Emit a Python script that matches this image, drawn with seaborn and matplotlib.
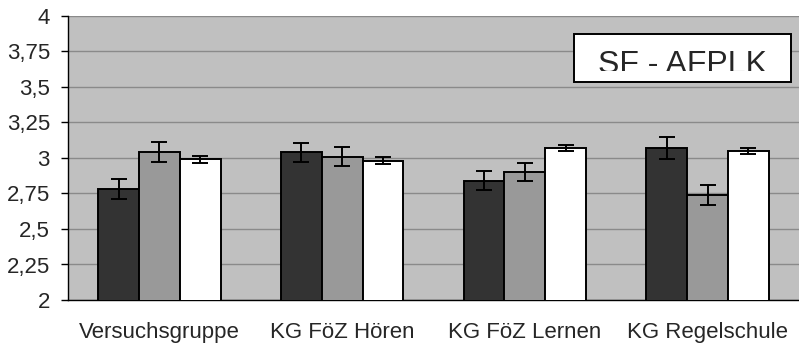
import matplotlib
matplotlib.use("Agg")
import matplotlib.pyplot as plt
import pandas as pd
import seaborn as sns
from matplotlib.patches import Rectangle
from matplotlib.transforms import Bbox

# Werte
gruppen = ["Versuchsgruppe", "KG FöZ Hören", "KG FöZ Lernen", "KG Regelschule"]
serien = ["A", "B", "C"]
mittelwerte = {
    "A": [2.78, 3.04, 2.84, 3.07],
    "B": [3.04, 3.01, 2.90, 2.74],
    "C": [2.99, 2.98, 3.07, 3.05],
}
fehler = {
    "A": [0.07, 0.065, 0.065, 0.075],
    "B": [0.07, 0.065, 0.065, 0.07],
    "C": [0.025, 0.025, 0.02, 0.02],
}
y_ticks = [2, 2.25, 2.5, 2.75, 3, 3.25, 3.5, 3.75, 4]
y_labels = ["2", "2,25", "2,5", "2,75", "3", "3,25", "3,5", "3,75", "4"]
farben = ["#333333", "#999999", "#ffffff"]
titel = "SF - AFPLK"

rows = []
for s in serien:
    for g, m, e in zip(gruppen, mittelwerte[s], fehler[s]):
        rows.append({"gruppe": g, "serie": s, "wert": m, "fehler": e})
df = pd.DataFrame(rows)

sns.set_style("white")
plt.rcParams["font.family"] = ["Liberation Sans", "DejaVu Sans"]

W, H = 799, 349
fig = plt.figure(figsize=(W / 100, H / 100), dpi=100)
ax = fig.add_axes([68 / W, 49 / H, 731 / W, 284 / H])
ax.set_facecolor("#c0c0c0")

sns.barplot(data=df, x="gruppe", y="wert", hue="serie", order=gruppen,
            hue_order=serien, palette=farben, width=0.67, errorbar=None,
            edgecolor="black", linewidth=1.4, ax=ax, legend=False, zorder=3)

# Fehlerbalken an den Balkenmitten
for patch_group, s in zip(ax.containers, serien):
    xs = [p.get_x() + p.get_width() / 2 for p in patch_group]
    ax.errorbar(xs, mittelwerte[s], yerr=fehler[s], fmt="none",
                ecolor="black", elinewidth=1.4, capsize=6, capthick=1.4,
                zorder=4)

ax.set_ylim(2, 4)
ax.set_xlim(-0.5, 3.47)
ax.set_yticks(y_ticks)
ax.set_yticklabels(y_labels, fontsize=16)
ax.yaxis.grid(True, color="#8a8a8a", linewidth=1, zorder=0)
ax.set_axisbelow(True)

ax.set_xticks(range(len(gruppen)))
ax.set_xticklabels(gruppen, fontsize=16)
ax.set_xticks([-0.5, 0.5, 1.5, 2.5, 3.5], minor=True)
ax.tick_params(axis="x", which="major", length=0, pad=16)
ax.tick_params(axis="x", which="minor", length=5, width=1, color="black",
               direction="out")
ax.tick_params(axis="y", length=5, width=1, color="black", direction="out",
               pad=8, left=True)
ax.set_xlabel("")
ax.set_ylabel("")

for side in ["top", "right"]:
    ax.spines[side].set_visible(False)
for side in ["left", "bottom"]:
    ax.spines[side].set_color("black")
    ax.spines[side].set_linewidth(1)

# Titelkasten (Text unten leicht abgeschnitten wie im Original)
box = Rectangle((574 / W, 1 - 82 / H), 217 / W, 48 / H,
                transform=fig.transFigure, facecolor="white",
                edgecolor="black", linewidth=1.4, zorder=5)
fig.patches.append(box)
t = fig.text(682 / W, 1 - 73 / H, titel, fontsize=23, ha="center",
             va="baseline", zorder=6)
t.set_clip_box(Bbox.from_extents(574, H - 71, 791, H - 34))
t.set_clip_on(True)

fig.savefig("out.png", dpi=100)
